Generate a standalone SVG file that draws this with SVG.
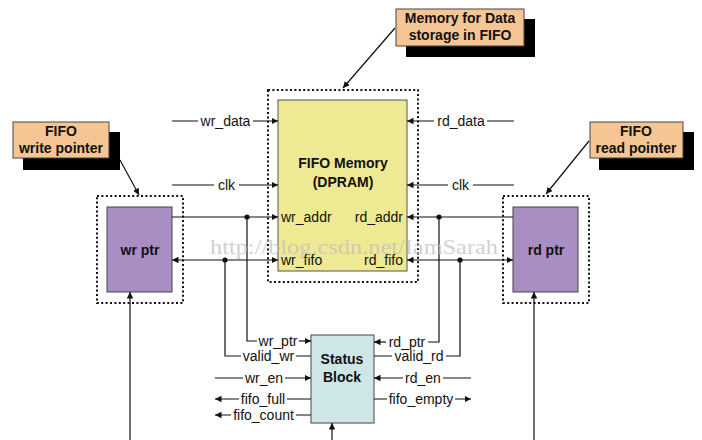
<svg xmlns="http://www.w3.org/2000/svg" width="702" height="440" viewBox="0 0 702 440">
<style>
.lbl{font-family:"Liberation Sans",Arial,sans-serif;font-size:14px;fill:#111}
.b{font-family:"Liberation Sans",Arial,sans-serif;font-size:14px;font-weight:bold;fill:#111}
.ln{stroke:#111;stroke-width:1.2;fill:none}
.dot{fill:none;stroke:#111;stroke-width:2;stroke-dasharray:2 2.4}
.call{fill:#F6C594;stroke:#444;stroke-width:1}
.shadow{fill:#000}
</style>
<defs>
<marker id="ah" viewBox="0 0 10 10" refX="10" refY="5" markerWidth="6.5" markerHeight="6.5" markerUnits="userSpaceOnUse" orient="auto-start-reverse">
<path d="M0,0 L10,5 L0,10 z" fill="#111"/>
</marker>
</defs>
<rect width="702" height="440" fill="#fff"/>

<g id="memory">
<rect class="dot" x="268" y="90" width="150" height="192"/>
<rect x="278" y="100" width="129" height="171" fill="#EEEA94" stroke="#555" stroke-width="1"/>
<text class="b" x="343" y="168" text-anchor="middle">FIFO Memory</text>
<text class="b" x="343" y="187" text-anchor="middle">(DPRAM)</text>
<text class="lbl" x="281" y="222">wr_addr</text>
<text class="lbl" x="403" y="222" text-anchor="end">rd_addr</text>
<text class="lbl" x="281" y="265">wr_fifo</text>
<text class="lbl" x="403" y="265" text-anchor="end">rd_fifo</text>
</g>

<g id="wr_ptr">
<rect class="dot" x="97" y="196" width="86" height="107"/>
<rect x="107" y="207" width="65" height="85" fill="#A98EC3" stroke="#444" stroke-width="1"/>
<text class="b" x="140" y="255" text-anchor="middle">wr ptr</text>
</g>

<g id="rd_ptr">
<rect class="dot" x="503" y="196" width="86" height="107"/>
<rect x="513" y="207" width="65" height="85" fill="#A98EC3" stroke="#444" stroke-width="1"/>
<text class="b" x="546" y="255" text-anchor="middle">rd ptr</text>
</g>

<g id="status">
<rect x="311" y="335" width="63" height="88" fill="#CFE6E8" stroke="#444" stroke-width="1"/>
<text class="b" x="342" y="364" text-anchor="middle">Status</text>
<text class="b" x="342" y="382" text-anchor="middle">Block</text>
</g>

<g id="callout_mem">
<rect class="shadow" x="406" y="19" width="129" height="38"/>
<rect class="call" x="396" y="9" width="128" height="37"/>
<text class="b" x="460" y="23" text-anchor="middle">Memory for Data</text>
<text class="b" x="460" y="40" text-anchor="middle">storage in FIFO</text>
</g>

<g id="callout_wr">
<rect class="shadow" x="23" y="132" width="97" height="38"/>
<rect class="call" x="13" y="122" width="96" height="36"/>
<text class="b" x="61" y="136" text-anchor="middle">FIFO</text>
<text class="b" x="61" y="153" text-anchor="middle">write pointer</text>
</g>

<g id="callout_rd">
<rect class="shadow" x="599" y="132" width="95" height="38"/>
<rect class="call" x="590" y="122" width="93" height="36"/>
<text class="b" x="636" y="136" text-anchor="middle">FIFO</text>
<text class="b" x="636" y="153" text-anchor="middle">read pointer</text>
</g>

<g id="connectors">
<!-- callout leaders -->
<line class="ln" x1="395" y1="28" x2="343" y2="88" marker-end="url(#ah)"/>
<line class="ln" x1="120" y1="160" x2="139" y2="195" marker-end="url(#ah)"/>
<line class="ln" x1="589" y1="141" x2="546" y2="194" marker-end="url(#ah)"/>

<!-- memory inputs -->
<path class="ln" d="M172,121 H198 M253,121 H278" marker-end="url(#ah)"/>
<text class="lbl" x="225.5" y="126" text-anchor="middle">wr_data</text>
<path class="ln" d="M172,185 H214 M239,185 H278" marker-end="url(#ah)"/>
<text class="lbl" x="226.5" y="190" text-anchor="middle">clk</text>
<path class="ln" d="M514,121 H487 M434,121 H407" marker-end="url(#ah)"/>
<text class="lbl" x="461" y="126" text-anchor="middle">rd_data</text>
<path class="ln" d="M514,185 H473 M448,185 H407" marker-end="url(#ah)"/>
<text class="lbl" x="460.5" y="190" text-anchor="middle">clk</text>

<!-- wr_addr / wr_fifo -->
<line class="ln" x1="172" y1="217" x2="278" y2="217" marker-end="url(#ah)"/>
<line class="ln" x1="172" y1="260" x2="278" y2="260" marker-start="url(#ah)" marker-end="url(#ah)"/>
<circle cx="247" cy="217" r="2.6" fill="#111"/>
<circle cx="225" cy="260" r="2.6" fill="#111"/>
<path class="ln" d="M247,217 V341 H257"/>
<path class="ln" d="M299,341 H311" marker-end="url(#ah)"/>
<text class="lbl" x="278" y="346" text-anchor="middle">wr_ptr</text>
<path class="ln" d="M225,260 V356 H241 M296,356 H311"/>
<text class="lbl" x="268.5" y="361" text-anchor="middle">valid_wr</text>

<!-- rd_addr / rd_fifo -->
<line class="ln" x1="513" y1="217" x2="407" y2="217" marker-end="url(#ah)"/>
<line class="ln" x1="407" y1="260" x2="513" y2="260" marker-start="url(#ah)" marker-end="url(#ah)"/>
<circle cx="439" cy="217" r="2.6" fill="#111"/>
<circle cx="460" cy="260" r="2.6" fill="#111"/>
<path class="ln" d="M439,217 V342 H428"/>
<path class="ln" d="M386,342 H374" marker-end="url(#ah)"/>
<text class="lbl" x="407" y="347" text-anchor="middle">rd_ptr</text>
<path class="ln" d="M460,260 V356 H446 M392,356 H374"/>
<text class="lbl" x="419" y="361" text-anchor="middle">valid_rd</text>

<!-- status left -->
<path class="ln" d="M215,378 H243 M285,378 H311" marker-end="url(#ah)"/>
<text class="lbl" x="264" y="383" text-anchor="middle">wr_en</text>
<path class="ln" d="M311,399 H287 M239,399 H215" marker-end="url(#ah)"/>
<text class="lbl" x="263" y="404" text-anchor="middle">fifo_full</text>
<path class="ln" d="M311,415 H296 M231,415 H215" marker-end="url(#ah)"/>
<text class="lbl" x="263.5" y="420" text-anchor="middle">fifo_count</text>

<!-- status right -->
<path class="ln" d="M471,378 H443 M403,378 H374" marker-end="url(#ah)"/>
<text class="lbl" x="423" y="383" text-anchor="middle">rd_en</text>
<path class="ln" d="M374,399 H387 M455,399 H471" marker-end="url(#ah)"/>
<text class="lbl" x="421" y="404" text-anchor="middle">fifo_empty</text>

<!-- bottom inputs -->
<line class="ln" x1="130" y1="440" x2="130" y2="292" marker-end="url(#ah)"/>
<line class="ln" x1="534" y1="440" x2="534" y2="292" marker-end="url(#ah)"/>
<line class="ln" x1="332" y1="440" x2="332" y2="423" marker-end="url(#ah)"/>
</g>

<text x="210" y="254" font-family="'Liberation Serif','Times New Roman',serif" font-size="21" fill="#bdbdbd" fill-opacity="0.7" textLength="288" lengthAdjust="spacingAndGlyphs">http://blog.csdn.net/IamSarah</text>
</svg>
